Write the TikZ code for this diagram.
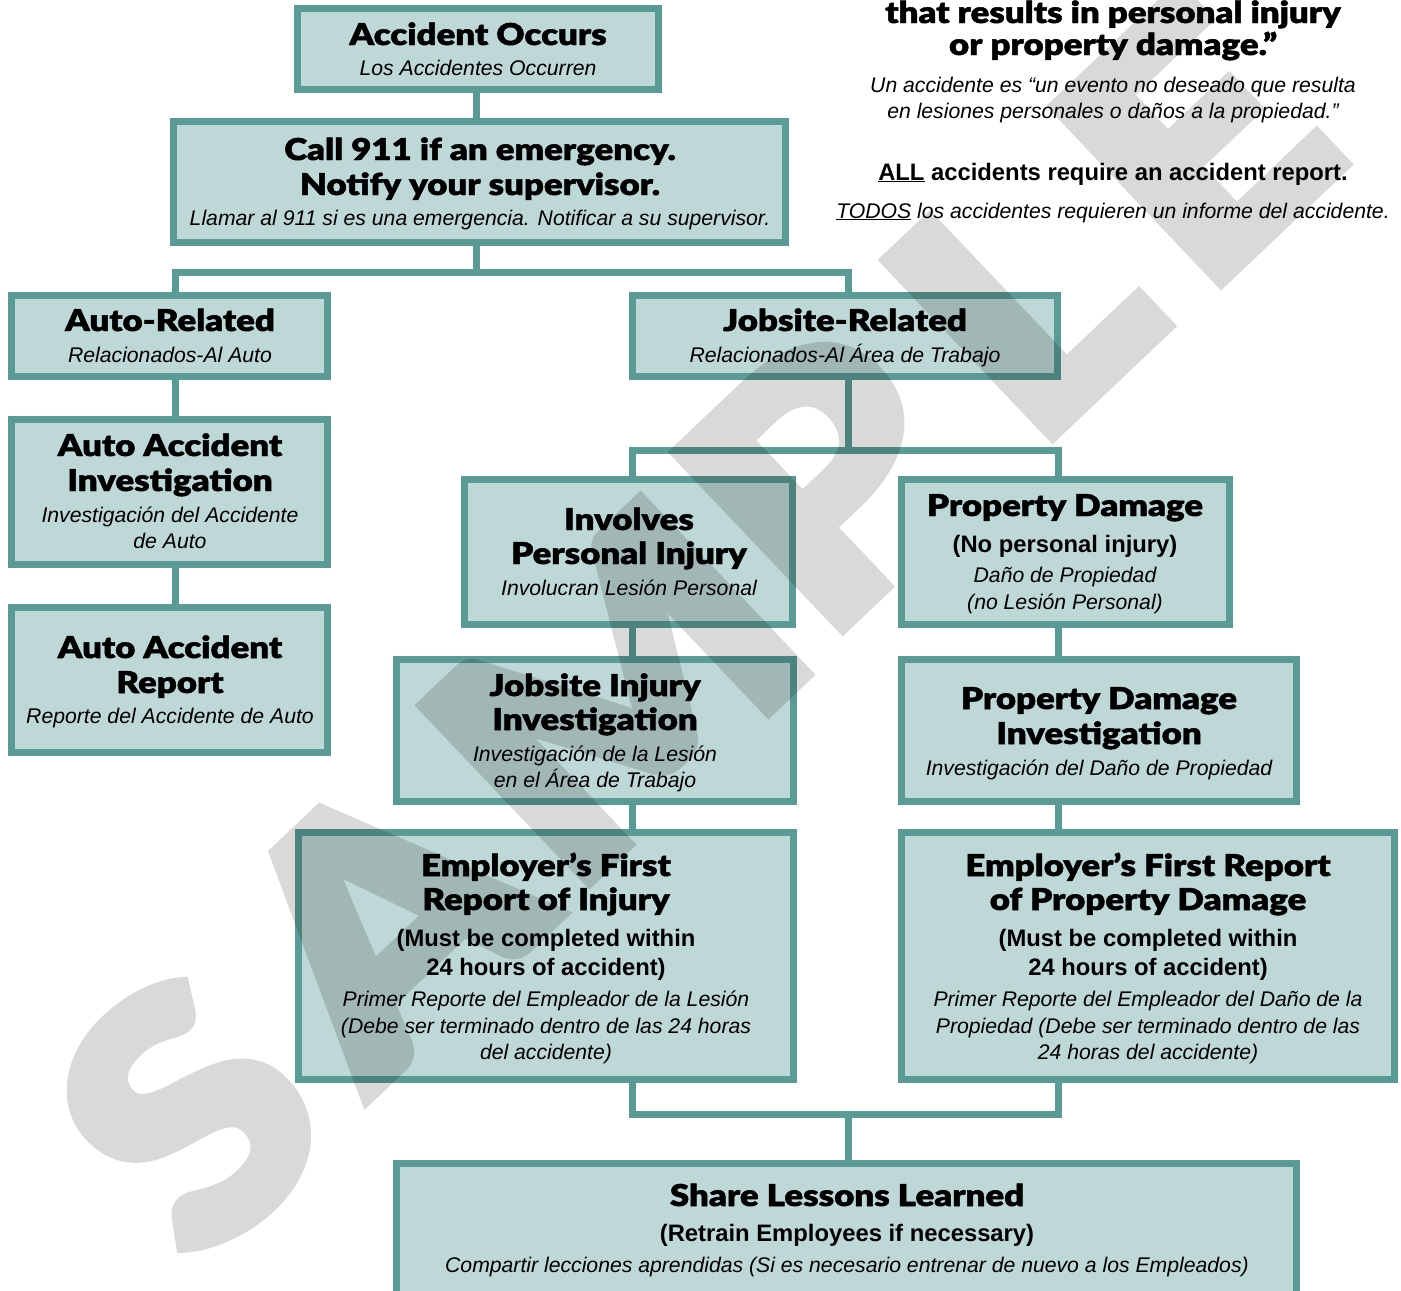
\documentclass[tikz,border=0pt]{standalone}
\usepackage{fontspec}
\setmainfont{Liberation Sans}
\newfontfamily\heavy[FakeStretch=1.16, FakeBold=1.6]{Lato Black}
\newfontfamily\wmfont[FakeStretch=1.1, FakeBold=3]{Lato Black}
\definecolor{edgec}{HTML}{5B9B96}
\definecolor{fillc}{HTML}{BED8D7}
\tikzset{
  box/.style={draw=edgec, fill=fillc, line width=7pt, inner sep=0pt},
  conn/.style={draw=edgec, line width=7pt, line join=miter},
  ttl/.style={font=\heavy\fontsize{30}{31}\selectfont, anchor=base, inner sep=0pt},
  itl/.style={font=\itshape\fontsize{21.2}{23}\selectfont, anchor=base, inner sep=0pt},
  bdl/.style={font=\bfseries\fontsize{23.8}{25}\selectfont, anchor=base, inner sep=0pt},
  wm/.style={font=\wmfont\fontsize{335}{335}\selectfont, text=black, rotate=43.5, anchor=center, inner sep=0pt}
}
\begin{document}
\begin{tikzpicture}[x=1pt,y=-1pt]
\useasboundingbox (0,0) rectangle (1401,1291);
\fill[white] (0,0) rectangle (1401,1291);
% connector coordinates
\coordinate (x476) at (476,0);
\coordinate (x175) at (175,0);
\coordinate (x848) at (848,0);
\coordinate (x632) at (632,0);
\coordinate (x1058) at (1058,0);
\coordinate (bar1) at (476,272);
\coordinate (bar2) at (848,450);
\coordinate (bar3) at (848,1114);
% boxes: outer extents, node size = outer - line width
\node[box, minimum width=361pt, minimum height=81pt] (acc) at (478,49) {};
\node[box, minimum width=612pt, minimum height=121pt] (call) at (479.5,182) {};
\node[box, minimum width=316pt, minimum height=81pt] (auto) at (169.5,336) {};
\node[box, minimum width=425pt, minimum height=81pt] (job) at (845,336) {};
\node[box, minimum width=316pt, minimum height=145pt] (autoinv) at (169.5,492) {};
\node[box, minimum width=316pt, minimum height=145pt] (autorep) at (169.5,680) {};
\node[box, minimum width=328pt, minimum height=145pt] (inj) at (628.5,552) {};
\node[box, minimum width=328pt, minimum height=145pt] (prop) at (1065.5,552) {};
\node[box, minimum width=397pt, minimum height=142pt] (jinv) at (595,730.5) {};
\node[box, minimum width=395pt, minimum height=142pt] (pinv) at (1099,730.5) {};
\node[box, minimum width=495pt, minimum height=247pt] (efr) at (546,956) {};
\node[box, minimum width=493pt, minimum height=247pt] (efp) at (1148,956) {};
\node[box, minimum width=900pt, minimum height=134pt] (share) at (846.5,1230.5) {};
% connectors
\draw[conn] (acc.south -| x476) -- (call.north -| x476);
\draw[conn] (call.south -| x476) -- (bar1);
\draw[conn] (auto.north -| x175) |- (bar1) -| (job.north -| x848);
\draw[conn] (auto.south -| x175) -- (autoinv.north -| x175);
\draw[conn] (autoinv.south -| x175) -- (autorep.north -| x175);
\draw[conn] (job.south -| x848) -- (bar2);
\draw[conn] (inj.north -| x632) |- (bar2) -| (prop.north -| x1058);
\draw[conn] (inj.south -| x632) -- (jinv.north -| x632);
\draw[conn] (jinv.south -| x632) -- (efr.north -| x632);
\draw[conn] (prop.south -| x1058) -- (pinv.north -| x1058);
\draw[conn] (pinv.south -| x1058) -- (efp.north -| x1058);
\draw[conn] (efr.south -| x632) |- (bar3) -| (efp.south -| x1058);
\draw[conn] (bar3) -- (share.north -| x848);
% texts
\node[ttl] (t1a) at (478,45) {Accident Occurs};
\node[itl] (t1b) at (478,75) {Los Accidentes Occurren};
\node[ttl] (t2a) at (480,160) {Call 911 if an emergency.};
\node[ttl] (t2b) at (480,195) {Notify your supervisor.};
\node[itl] (t2c) at (480,225) {Llamar al 911 si es una emergencia. Notificar a su supervisor.};
\node[ttl] (t3a) at (170,331) {Auto-Related};
\node[itl] (t3b) at (170,362) {Relacionados-Al Auto};
\node[ttl] (t4a) at (845,331) {Jobsite-Related};
\node[itl] (t4b) at (845,362) {Relacionados-Al Área de Trabajo};
\node[ttl] (t5a) at (170,456) {Auto Accident};
\node[ttl] (t5b) at (170,491) {Investigation};
\node[itl] (t5c) at (170,522) {Investigación del Accidente};
\node[itl] (t5d) at (170,548) {de Auto};
\node[ttl] (t6a) at (170,658) {Auto Accident};
\node[ttl] (t6b) at (170,693) {Report};
\node[itl] (t6c) at (170,723) {Reporte del Accidente de Auto};
\node[ttl] (t7a) at (629,530) {Involves};
\node[ttl] (t7b) at (629,564) {Personal Injury};
\node[itl] (t7c) at (629,595) {Involucran Lesión Personal};
\node[ttl] (t8a) at (1065,516) {Property Damage};
\node[bdl] (t8b) at (1065,552) {(No personal injury)};
\node[itl] (t8c) at (1065,582) {Daño de Propiedad};
\node[itl] (t8d) at (1065,609) {(no Lesión Personal)};
\node[ttl] (t9a) at (595,696) {Jobsite Injury};
\node[ttl] (t9b) at (595,730) {Investigation};
\node[itl] (t9c) at (595,761) {Investigación de la Lesión};
\node[itl] (t9d) at (595,787) {en el Área de Trabajo};
\node[ttl] (t10a) at (1099,709) {Property Damage};
\node[ttl] (t10b) at (1099,744) {Investigation};
\node[itl] (t10c) at (1099,775) {Investigación del Daño de Propiedad};
\node[ttl] (t11a) at (546,876) {Employer’s First};
\node[ttl] (t11b) at (546,910) {Report of Injury};
\node[bdl] (t11c) at (546,946) {(Must be completed within};
\node[bdl] (t11d) at (546,975) {24 hours of accident)};
\node[itl] (t11e) at (546,1006) {Primer Reporte del Empleador de la Lesión};
\node[itl] (t11f) at (546,1033) {(Debe ser terminado dentro de las 24 horas};
\node[itl] (t11g) at (546,1059) {del accidente)};
\node[ttl] (t12a) at (1148,876) {Employer’s First Report};
\node[ttl] (t12b) at (1148,910) {of Property Damage};
\node[bdl] (t12c) at (1148,946) {(Must be completed within};
\node[bdl] (t12d) at (1148,975) {24 hours of accident)};
\node[itl] (t12e) at (1148,1006) {Primer Reporte del Empleador del Daño de la};
\node[itl] (t12f) at (1148,1033) {Propiedad (Debe ser terminado dentro de las};
\node[itl] (t12g) at (1148,1059) {24 horas del accidente)};
\node[ttl] (t13a) at (847,1206) {Share Lessons Learned};
\node[bdl] (t13b) at (847,1241) {(Retrain Employees if necessary)};
\node[itl] (t13c) at (847,1272) {Compartir lecciones aprendidas (Si es necesario entrenar de nuevo a los Empleados)};
% top right note
\node[ttl] (n1) at (1113,23) {that results in personal injury};
\node[ttl] (n2) at (1113,55) {or property damage.”};
\node[itl] (n3) at (1113,92) {Un accidente es “un evento no deseado que resulta};
\node[itl] (n4) at (1113,118) {en lesiones personales o daños a la propiedad.”};
\node[bdl] (n5) at (1113,180) {\underline{ALL} accidents require an accident report.};
\node[itl] (n6) at (1113,218) {\underline{TODOS} los accidentes requieren un informe del accidente.};
% watermark (one transparency group, so overlapping fill and stroke do not double)
\begin{scope}[transparency group, opacity=0.15]
\node[wm] (wS) at (188,1114) {S};
\node[wm] (wA) at (381,919) {A};
\node[wm] (wM) at (615,690) {M};
\node[wm] (wP) at (825,478) {P};
\node[wm] (wL) at (1020,300) {L};
\node[wm] (wE) at (1195,140) {E};
\end{scope}
\end{tikzpicture}
\end{document}
